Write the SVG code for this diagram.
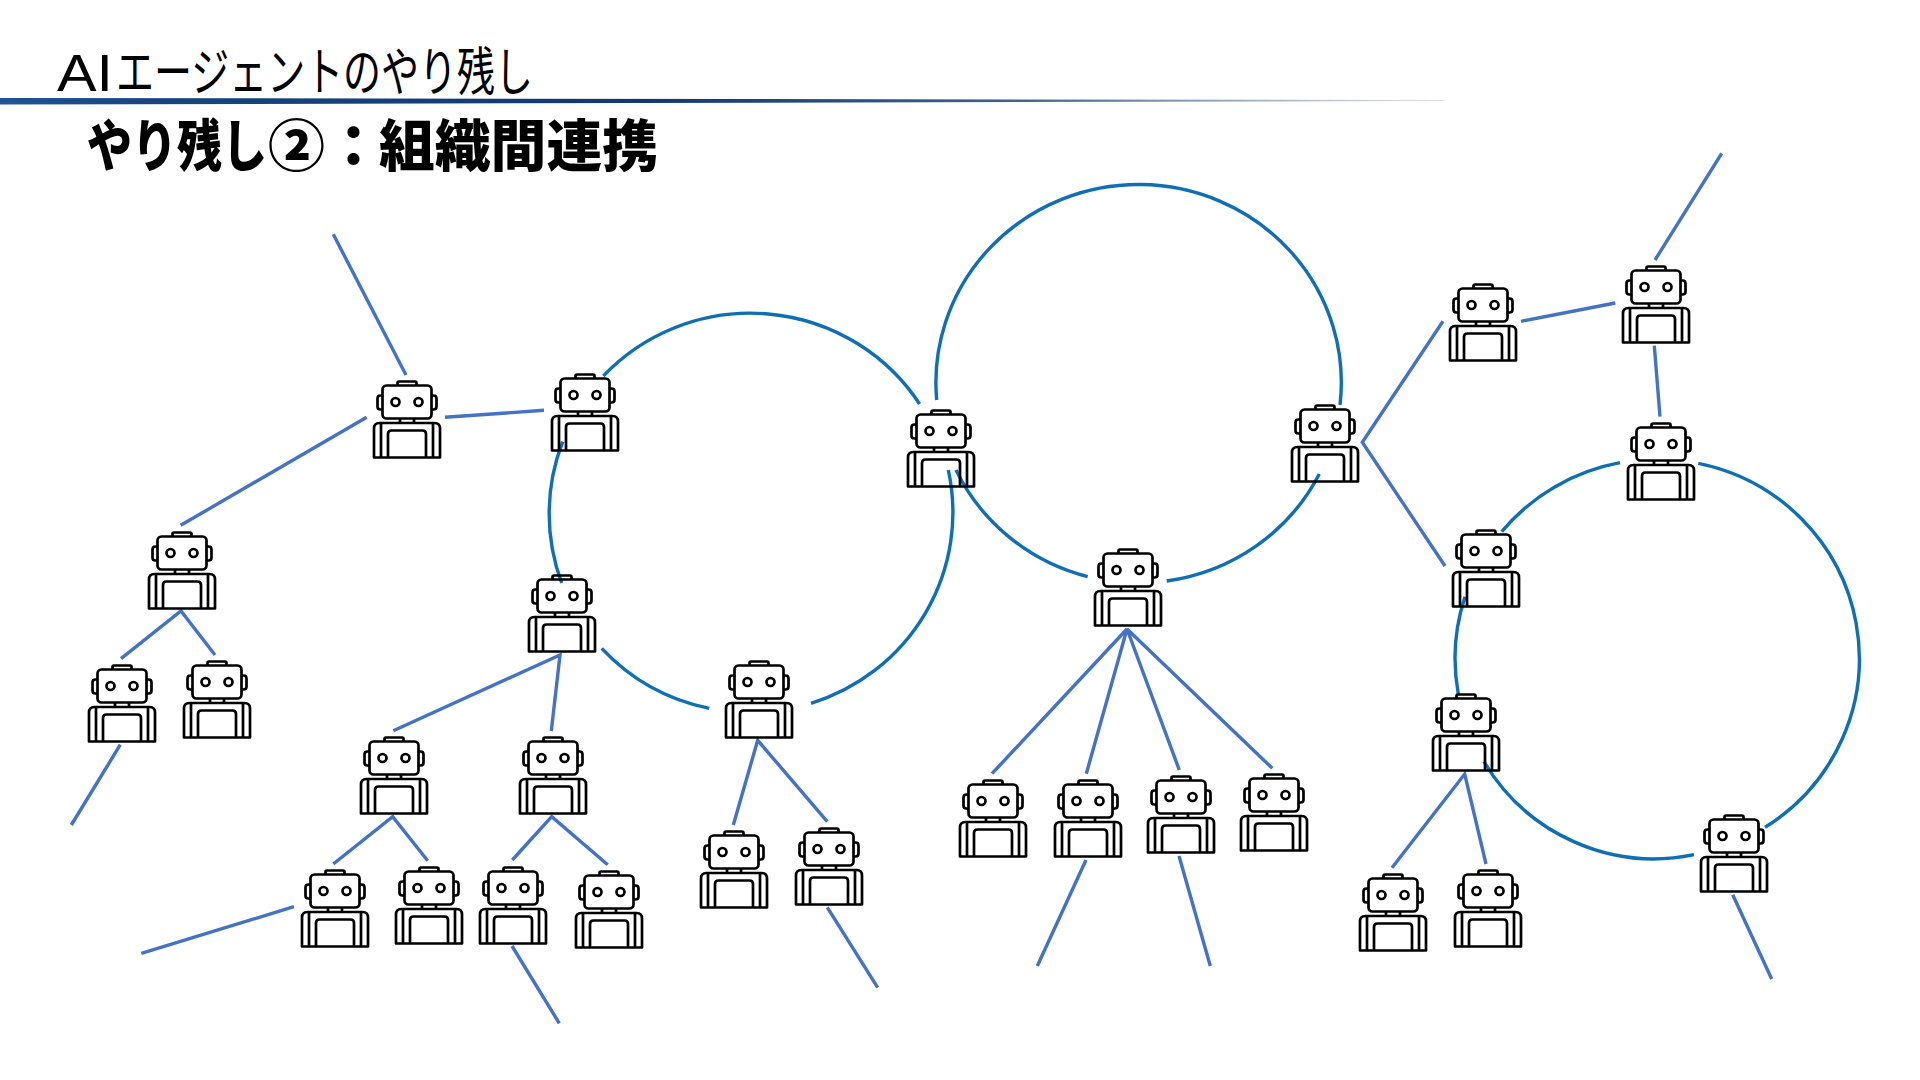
<svg xmlns="http://www.w3.org/2000/svg" width="1920" height="1080" viewBox="0 0 1920 1080">
<style>
.bg{fill:#fff}
.t{font-family:"Noto Sans CJK JP","Liberation Sans",sans-serif;fill:#000}
.link{stroke:#4472C4;stroke-width:3.4;fill:none}
.ring{stroke:#0F6FB6;stroke-width:3.4;fill:none}
.rb{fill:none;stroke:#000;stroke-width:2.7;stroke-linejoin:round}
</style>
<defs>
<linearGradient id="rule" x1="0" x2="1" y1="0" y2="0">
<stop offset="0" stop-color="#1F5596"/><stop offset="0.1" stop-color="#174580"/><stop offset="0.45" stop-color="#12386F"/><stop offset="0.7" stop-color="#3F6290"/><stop offset="0.88" stop-color="#A9B5C4"/><stop offset="1" stop-color="#E4E4E4"/>
</linearGradient>
<g id="robot" class="rb">
<path d="M24.500 6.500V4Q24.500 2.500 26 2.500H42Q43.500 2.500 43.500 4V6.500"/>
<rect x="9.500" y="6.500" width="49" height="33" rx="4"/>
<path d="M9.500 16.500H7.500Q4.500 16.500 4.500 19.500V27.500Q4.500 30.500 7.500 30.500H9.500M58.500 16.500H60.500Q63.500 16.500 63.500 19.500V27.500Q63.500 30.500 60.500 30.500H58.500"/>
<circle cx="22.500" cy="23" r="4"/><circle cx="45.500" cy="23" r="4"/>
<path d="M27 39.500V44M41 39.500V44"/>
<path d="M1 78.500V49.500Q1 44 6.500 44H61.500Q67 44 67 49.500V78.500Z"/>
<path d="M8 44V78M60 44V78"/>
<path d="M15 78V55Q15 51.500 18.500 51.500H49.500Q53 51.500 53 55V78"/>
</g>
</defs>
<rect class="bg" width="1920" height="1080"/>
<polygon points="0,98 1445,100 1445,101 0,104.500" fill="url(#rule)"/>
<text id="title" class="t" y="91" font-size="52"><tspan x="57" textLength="56" lengthAdjust="spacingAndGlyphs" font-family="Liberation Sans">AI</tspan><tspan x="116" textLength="417" lengthAdjust="spacingAndGlyphs">エージェントのやり残し</tspan></text>
<text id="subtitle" class="t" y="166" font-size="56" font-weight="900"><tspan x="87" textLength="180" lengthAdjust="spacingAndGlyphs">やり残し</tspan><tspan x="268" textLength="114" lengthAdjust="spacingAndGlyphs">②：</tspan><tspan x="379" textLength="279" lengthAdjust="spacingAndGlyphs">組織間連携</tspan></text>
<g id="connectors">
<path class="link" d="M333.300 234.300L406 375M366.700 417.300L180.700 525.300M445 417.300L544 410.300M121 658.700L181 611L215 655M120.300 744.700L71.300 825M393.300 730.700L560 655L551.300 731M333.300 864L392.700 816.700L427.700 860.700M294 906.700L141.300 953.300M512 946L559.300 1023.300M512.300 860L551.700 816.700L607.700 864.700M733.300 825L757.700 740.300L827.300 821.700M827.300 907.300L877.700 987.700M992 773.700L1127 629L1086.300 773.700M1179.300 770L1127 629L1272.300 768.300M1086 860L1037.300 966M1179 856L1210.300 966M1443 321.300L1362.300 442.300L1445 566M1521 321.300L1615.300 303M1721.700 153.300L1655 260M1654.300 345.700L1660 416.700M1392 867.700L1464.700 774L1486 864M1732.700 894.700L1771.700 979"/>
<path class="ring" d="M603.300 376A202 200 0 0 1 919.600 404M562.700 441.700A202 200 0 0 0 561.700 583M601.700 648.300A202 200 0 0 0 709.300 708.300M811 703.300A202 200 0 0 0 948.300 470"/>
<path class="ring" d="M936.700 400A202.700 198 0 1 1 1340 405M956 470A202.700 199 0 0 0 1087.700 576.700M1166.700 581A202.700 199 0 0 0 1319.300 474"/>
<path class="ring" d="M1501.700 531.700A201.500 199.300 0 0 1 1620 462.700M1698.300 463.300A201.500 199.300 0 0 1 1765 827.300M1694 854.700A198 199 0 0 1 1484 761.700M1458.300 694A201.500 199.300 0 0 1 1465 596.700"/>
</g>
<g id="r1"><use href="#robot" x="373" y="379"/></g>
<g id="r2"><use href="#robot" x="551" y="372"/></g>
<g id="r3"><use href="#robot" x="148" y="530"/></g>
<g id="r4"><use href="#robot" x="88" y="663"/></g>
<g id="r5"><use href="#robot" x="183" y="659"/></g>
<g id="r6"><use href="#robot" x="528" y="573"/></g>
<g id="r7"><use href="#robot" x="360" y="735"/></g>
<g id="r8"><use href="#robot" x="519" y="735"/></g>
<g id="r9"><use href="#robot" x="301" y="868"/></g>
<g id="r10"><use href="#robot" x="395" y="865"/></g>
<g id="r11"><use href="#robot" x="479" y="865"/></g>
<g id="r12"><use href="#robot" x="575" y="869"/></g>
<g id="r13"><use href="#robot" x="725" y="659"/></g>
<g id="r14"><use href="#robot" x="700" y="829"/></g>
<g id="r15"><use href="#robot" x="795" y="826"/></g>
<g id="r16"><use href="#robot" x="907" y="408"/></g>
<g id="r17"><use href="#robot" x="1094" y="547"/></g>
<g id="r18"><use href="#robot" x="1291" y="403"/></g>
<g id="r19"><use href="#robot" x="959" y="778"/></g>
<g id="r20"><use href="#robot" x="1054" y="778"/></g>
<g id="r21"><use href="#robot" x="1147" y="774"/></g>
<g id="r22"><use href="#robot" x="1240" y="772"/></g>
<g id="r23"><use href="#robot" x="1449" y="282"/></g>
<g id="r24"><use href="#robot" x="1622" y="264"/></g>
<g id="r25"><use href="#robot" x="1627" y="421"/></g>
<g id="r26"><use href="#robot" x="1452" y="528"/></g>
<g id="r27"><use href="#robot" x="1432" y="692"/></g>
<g id="r28"><use href="#robot" x="1359" y="872"/></g>
<g id="r29"><use href="#robot" x="1454" y="868"/></g>
<g id="r30"><use href="#robot" x="1700" y="813"/></g>
</svg>
